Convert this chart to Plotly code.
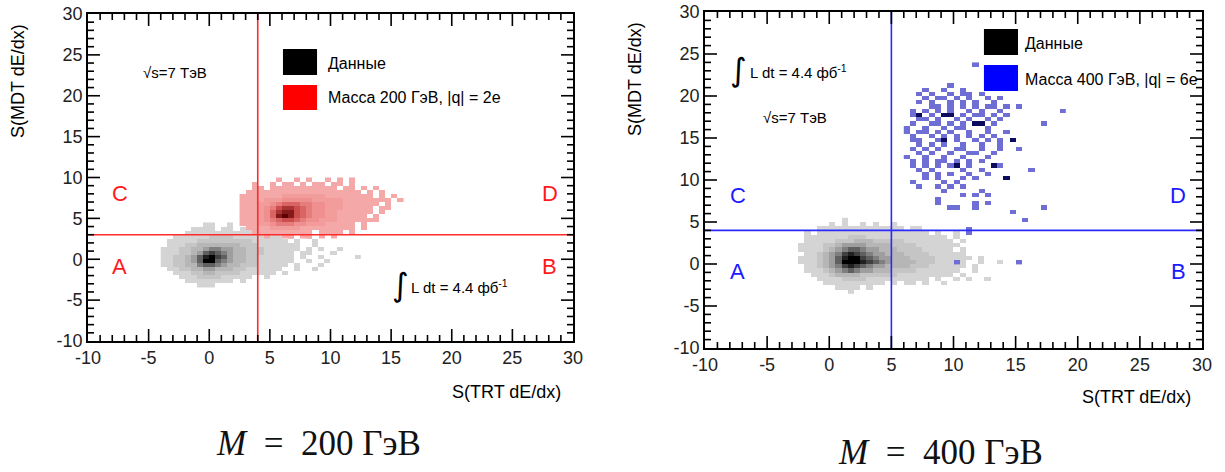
import plotly.graph_objects as go

BIN = 0.5
# ---------------- data: left panel (M = 200 GeV) ----------------
# grids of bin contents (intensity levels 1-9, '.' = empty), rows listed top to bottom
left_data_x0 = -4.0      # lower x edge of first column
left_data_ytop = 4.0     # lower y edge of first (top) row
left_data_rows = [
    ".......11..1",
    ".....1111.11.11.1",
    "....111111111111...1",
    "..111111222211111111.1..1",
    ".11111222222222111111.1..1",
    ".1112233333332221111111..1",
    "11122334554433222111111.1.1..1",
    "1112234676543322211111.11...1",
    "1122346897643322111111.1..1.....1",
    "1122346996543322111111..1..1",
    "112233566543322211111.1...1",
    ".1122334433322111111..1..1",
    "..11122332222111111.1",
    "...111222211111..1",
    "....11111111.1",
    "......111",
]
left_sig_x0 = 2.5
left_sig_ytop = 9.5
left_sig_rows = [
    "......1..1.1..1.1.1",
    "..1..1.11.1.11.11.1",
    "..11.11111111111.11.1.1",
    ".1111111111111111111.1.1",
    "1111111222222211111111.1.1",
    "1111222333332222211111111.1",
    "11122345554433222111111.1",
    "1112346776543322211111.11",
    "1112357886543322111111.1",
    "111235898654332211111.1",
    "11123456654332221111111",
    "1112234443322211111.1",
    ".111122222111111111.1",
    "..1111111111.1111.1",
    "....1..11.11.1.1",
]
# ---------------- data: right panel (M = 400 GeV) ----------------
right_data_x0 = -3.0
right_data_ytop = 5.0
right_data_rows = [
    "........1",
    "......1.1..1.1..1",
    "....11111111111111.11",
    "..1.111111111111111111.1..1",
    "..11111112221111111111111.1",
    "..111112223332222211111111.1",
    ".11112234444333322221111111",
    ".1111234566544333222211111.1",
    "..11234578765443332222111111",
    ".1112346899765443332222111111.1",
    ".111234699987654333322211111..1..1",
    "..11234578765443333222111111.1",
    "..1112345654433322221111111..1",
    "...11123333222222111111111.1",
    "....111122221111111111.1..1.1..1",
    ".....1111111111.1.11.1..1",
    ".......1111.1",
    ".........1",
]
right_sig_x0 = 6.0
right_sig_ytop = 23.5
right_sig_rows = [
    "...........1",
    "", "", "", "",
    ".......1",
    "...1..1..1",
    "..1.1..1.11.1",
    "...1.11.1.1..1.1",
    "..1.1..1.1.1..1",
    "....11.1.1.1.11.1.1",
    ".1.1.1.1..1.1..1.........1",
    ".13.1.33.1.11.1.1",
    "..11.1..1.1..1.1",
    ".1..11.1.1.33.1.......1",
    "1..1..1.11...1",
    "1.11.1.1..1..1..1",
    ".1..1.1.1.1.1.1",
    ".11..13.1..1.1.1.3",
    "..1.1.1..1..1..1",
    ".1.1.1..11..1..1..1",
    "..1.1..1..11..1",
    "1..1..1..1...1",
    ".1.1.11.1.1.1",
    ".1.1.1.13.1...31",
    "..1.1....1..1.......1",
    "...1.1.1..1..1",
    "...1.1...1.1....3",
    ".1....1.1",
    "..1..1.1.1",
    "......1.....1",
    ".........1.1.1",
    ".....1",
    ".....1.....1.1",
    ".......11..1..........1",
    ".................1",
    "",
    "...................1",
    "",
    "..........1",
    "..........1",
    "", "", "", "", "", "",
    "........1.........1",
]

tick_vals = [-10, -5, 0, 5, 10, 15, 20, 25, 30]
tick_text = ["-10", "-5", "0", "5", "10", "15", "20", "25", "30"]
AX_MIN, AX_MAX = -10, 30


def grid(rows, x0, ytop):
    ncol = max(len(r) for r in rows)
    xs = [x0 + BIN * (c + 0.5) for c in range(ncol)]
    ys = [ytop + BIN * 0.5 - BIN * i for i in range(len(rows))]
    z = [[(int(ch) if ch.isdigit() else None) for ch in r.ljust(ncol, ".")] for r in rows]
    return xs, ys[::-1], z[::-1]


gray_cs = [[0, "#d4d4d4"], [0.3, "#b0b0b0"], [0.65, "#5a5a5a"], [1, "#000000"]]
red_cs = [[0, "#f5a8a8"], [0.3, "#ee8a8a"], [0.65, "#c84848"], [1, "#600000"]]
blue_cs = [[0, "#6e6ed4"], [0.5, "#3a3aa8"], [1, "#0c0c5e"]]

fig = go.Figure()


def add_hist(rows, x0, ytop, cs, zmax, xa, ya):
    xs, ys, z = grid(rows, x0, ytop)
    fig.add_trace(go.Heatmap(x=xs, y=ys, z=z, colorscale=cs, zmin=1, zmax=zmax,
                             showscale=False, hoverinfo="skip", xaxis=xa, yaxis=ya))


add_hist(left_data_rows, left_data_x0, left_data_ytop, gray_cs, 9, "x", "y")
add_hist(left_sig_rows, left_sig_x0, left_sig_ytop, red_cs, 9, "x", "y")
add_hist(right_data_rows, right_data_x0, right_data_ytop, gray_cs, 9, "x2", "y2")
add_hist(right_sig_rows, right_sig_x0, right_sig_ytop, blue_cs, 3, "x2", "y2")

W, H = 1225, 472
L = dict(x0=88, x1=573, y0=14, y1=341)
R = dict(x0=705, x1=1202, y0=12, y1=348)

axis_major = dict(
    range=[AX_MIN, AX_MAX], showline=True, linecolor="#000000", linewidth=1.8, mirror=True,
    ticks="", showgrid=False,
    zeroline=False, tickmode="array", tickvals=tick_vals, ticktext=tick_text, automargin=False,
    tickfont=dict(family="Liberation Sans, Arial", size=18, color="#222222"),
)

fig.update_layout(
    template="none",
    width=W, height=H, margin=dict(l=0, r=0, t=0, b=0, pad=0, autoexpand=False),
    paper_bgcolor="white", plot_bgcolor="white", showlegend=False,
    xaxis=dict(domain=[L["x0"] / W, L["x1"] / W], anchor="y", **axis_major),
    yaxis=dict(domain=[1 - L["y1"] / H, 1 - L["y0"] / H], anchor="x", **axis_major),
    xaxis2=dict(domain=[R["x0"] / W, R["x1"] / W], anchor="y2", **axis_major),
    yaxis2=dict(domain=[1 - R["y1"] / H, 1 - R["y0"] / H], anchor="x2", **axis_major),
)

# ROOT-style tick marks on all four sides (major every 5, minor every 1),
# drawn as thin filled bars positioned on the page from the axis mapping
tick_shapes = []
HALF = 0.8  # half thickness of a tick in pixels
for box in (L, R):
    ux = (box["x1"] - box["x0"]) / (AX_MAX - AX_MIN)
    uy = (box["y1"] - box["y0"]) / (AX_MAX - AX_MIN)
    for v in range(AX_MIN + 1, AX_MAX):
        ln = 12 if v % 5 == 0 else 6
        px = box["x0"] + (v - AX_MIN) * ux
        py = box["y1"] - (v - AX_MIN) * uy
        bars = [
            (px - HALF, px + HALF, box["y1"] - ln, box["y1"]),       # bottom
            (px - HALF, px + HALF, box["y0"], box["y0"] + ln),       # top
            (box["x0"], box["x0"] + ln, py - HALF, py + HALF),       # left
            (box["x1"] - ln, box["x1"], py - HALF, py + HALF),       # right
        ]
        for a, b, c, d in bars:
            tick_shapes.append(dict(type="rect", xref="paper", yref="paper", layer="above",
                                    x0=a / W, x1=b / W, y0=1 - d / H, y1=1 - c / H,
                                    fillcolor="black", line=dict(width=0)))

# cut lines
cut_shapes = [
    dict(type="line", xref="x", yref="y", x0=4, x1=4, y0=AX_MIN, y1=AX_MAX, line=dict(color="#ff2a2a", width=1.6)),
    dict(type="line", xref="x", yref="y", x0=AX_MIN, x1=AX_MAX, y0=3, y1=3, line=dict(color="#ff2a2a", width=1.6)),
    dict(type="line", xref="x2", yref="y2", x0=5, x1=5, y0=AX_MIN, y1=AX_MAX, line=dict(color="#2a2aff", width=1.6)),
    dict(type="line", xref="x2", yref="y2", x0=AX_MIN, x1=AX_MAX, y0=4, y1=4, line=dict(color="#2a2aff", width=1.6)),
]

# legend boxes
legend_shapes = [
    dict(type="rect", xref="x", yref="y", x0=6.08, x1=8.89, y0=22.54, y1=25.72, fillcolor="black", line=dict(width=0)),
    dict(type="rect", xref="x", yref="y", x0=6.08, x1=8.89, y0=18.26, y1=21.31, fillcolor="#ff0000", line=dict(width=0)),
    dict(type="rect", xref="x2", yref="y2", x0=12.45, x1=15.19, y0=24.88, y1=27.98, fillcolor="black", line=dict(width=0)),
    dict(type="rect", xref="x2", yref="y2", x0=12.45, x1=15.19, y0=20.6, y1=23.69, fillcolor="#0000ff", line=dict(width=0)),
]
fig.update_layout(shapes=cut_shapes + legend_shapes + tick_shapes)

FONT = "Liberation Sans, Arial"


def ann(text, x, y, xref, yref, size=15, color="black", xanchor="left", yanchor="middle", family=FONT, angle=0):
    fig.add_annotation(text=text, x=x, y=y, xref=xref, yref=yref, showarrow=False,
                       xanchor=xanchor, yanchor=yanchor, textangle=angle,
                       font=dict(family=family, size=size, color=color))


# region letters
for (xr, yr, col, xs, yc, ya_) in [("x", "y", "#ff1a1a", (-7.4, 28.1), 8.1, -0.9),
                                    ("x2", "y2", "#1a1aff", (-7.35, 28.07), 8.2, -0.95)]:
    ann("C", xs[0], yc, xr, yr, 22, col, "center")
    ann("D", xs[1], yc, xr, yr, 22, col, "center")
    ann("A", xs[0], ya_, xr, yr, 22, col, "center")
    ann("B", xs[1], ya_, xr, yr, 22, col, "center")

# legend texts
ann("Данные", 9.6, 24.0, "x", "y", 16)
ann("Масса 200 ГэВ, |q| = 2e", 9.6, 19.73, "x", "y", 16)
ann("Данные", 15.6, 26.31, "x2", "y2", 16)
ann("Масса 400 ГэВ, |q| = 6e", 15.6, 22.02, "x2", "y2", 16)

# energy and luminosity labels
ann("√s=7 ТэВ", -5.6, 22.9, "x", "y", 15)
ann("√s=7 ТэВ", -5.5, 17.5, "x2", "y2", 15)
ann("∫", 15.75, -3.15, "x", "y", 32, family="DejaVu Sans", xanchor="center")
ann("L dt = 4.4 фб<sup>-1</sup>", 16.5, -3.3, "x", "y", 15)
ann("∫", -7.3, 23.1, "x2", "y2", 32, family="DejaVu Sans", xanchor="center")
ann("L dt = 4.4 фб<sup>-1</sup>", -6.55, 22.95, "x2", "y2", 15)

# axis titles
ann("S(TRT dE/dx)", 563 / W, 1 - 392 / H, "paper", "paper", 18, xanchor="right")
ann("S(TRT dE/dx)", 1193 / W, 1 - 397 / H, "paper", "paper", 18, xanchor="right")
ann("S(MDT dE/dx)", 18 / W, 1 - 22 / H, "paper", "paper", 18, xanchor="center", yanchor="top", angle=-90)
ann("S(MDT dE/dx)", 635 / W, 1 - 20 / H, "paper", "paper", 18, xanchor="center", yanchor="top", angle=-90)

# captions
SP = "\u2002"
ann("<i>M</i>" + SP + "=" + SP + "200 ГэВ", 318 / W, 1 - 443 / H, "paper", "paper", 35, "#111111", "center",
    family="Liberation Serif, DejaVu Serif")
ann("<i>M</i>" + SP + "=" + SP + "400 ГэВ", 940 / W, 1 - 452 / H, "paper", "paper", 35, "#111111", "center",
    family="Liberation Serif, DejaVu Serif")

fig.write_html("out.html", config={"displayModeBar": False, "staticPlot": True},
               post_script="document.body.style.margin='0';document.body.style.padding='0';")
